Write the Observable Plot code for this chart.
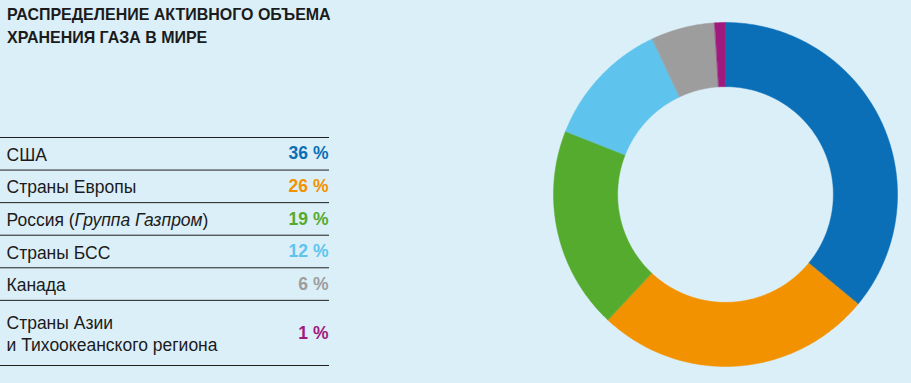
<!DOCTYPE html>
<html>
<head>
<meta charset="utf-8">
<script src="https://cdn.jsdelivr.net/npm/d3@7"></script>
<script src="https://cdn.jsdelivr.net/npm/@observablehq/plot@0.6"></script>
<style>
  html, body { margin: 0; padding: 0; background: #dbeff9; }
  #wrap { position: relative; width: 911px; height: 383px; overflow: hidden; background: #dbeff9; font-family: "Liberation Sans", Arial, sans-serif; }
  #wrap > * { position: absolute; left: 0; top: 0; }
  #title { left: 7px; top: 3px; font-weight: bold; font-size: 17px; line-height: 23.3px; color: #1b1b1b; white-space: nowrap; transform: scaleX(0.94); transform-origin: 0 0; }
</style>
</head>
<body>
<div id="wrap">
  <div id="title">РАСПРЕДЕЛЕНИЕ АКТИВНОГО ОБЪЕМА<br>ХРАНЕНИЯ ГАЗА В МИРЕ</div>
</div>
<script>
// ---- data ----
const categories = ["США", "Страны Европы", "Россия (Группа Газпром)", "Страны БСС", "Канада", "Страны Азии\nи Тихоокеанского региона"];
const shares = [36, 26, 19, 12, 6, 1];
const valueLabels = ["36 %", "26 %", "19 %", "12 %", "6 %", "1 %"];
const rowLines = [1, 1, 1, 1, 1, 2];
const colors = ["#0a6fb7", "#f39200", "#55ab2d", "#5ec4ee", "#9d9d9d", "#a0197c"];

const wrap = document.getElementById("wrap");

// ---- table (legend) ----
let acc = 0;
const rows = categories.map((name, i) => {
  const top = acc; acc += rowLines[i];
  return {name, value: valueLabels[i], lines: rowLines[i], mid: top + rowLines[i] / 2, bottom: acc};
});
const boundaries = [0, ...rows.map(r => r.bottom)];

const table = Plot.plot({
  width: 340, height: 383,
  margin: 0,
  style: {background: "transparent", fontFamily: "'Liberation Sans', Arial, sans-serif"},
  x: {domain: [0, 1], range: [0, 329], axis: null},
  y: {domain: [0, acc], range: [137, 365], axis: null},
  color: {domain: categories, range: colors},
  marks: [
    Plot.ruleY(boundaries, {y: d => d, x1: 0, x2: 1, stroke: "#1e1e1e", strokeWidth: 1}),
    Plot.text(rows, {x: 0, y: "mid", text: "name", textAnchor: "start", dx: 6, lineAnchor: "middle", fontSize: 17.5, lineHeight: 1.26, fill: "#1b1b1b"}),
    Plot.text(rows, {x: 1, y: "mid", text: "value", textAnchor: "end", dx: -1, lineAnchor: "middle", fontSize: 17.5, fontWeight: "bold", fill: "name"})
  ]
});
wrap.appendChild(table);

// italic part of the Gazprom label
table.querySelectorAll("text").forEach(t => {
  if (t.textContent === "Россия (Группа Газпром)") {
    t.textContent = "";
    const parts = [["Россия (", "normal"], ["Группа Газпром", "italic"], [")", "normal"]];
    for (const [s, st] of parts) {
      const ts = document.createElementNS("http://www.w3.org/2000/svg", "tspan");
      ts.textContent = s;
      ts.setAttribute("font-style", st);
      t.appendChild(ts);
    }
  }
});

// ---- donut ----
const innerRatio = 0.627;
const total = d3.sum(shares);
let start = 0;
const slices = categories.map((name, i) => {
  const a0 = start / total * 2 * Math.PI;
  start += shares[i];
  const a1 = start / total * 2 * Math.PI;
  const n = Math.max(2, Math.ceil((a1 - a0) / (Math.PI / 360)));
  const ring = [];
  for (let k = 0; k <= n; k++) { const a = a0 + (a1 - a0) * k / n; ring.push([Math.sin(a), Math.cos(a)]); }
  for (let k = n; k >= 0; k--) { const a = a0 + (a1 - a0) * k / n; ring.push([innerRatio * Math.sin(a), innerRatio * Math.cos(a)]); }
  ring.push(ring[0]);
  return {type: "Feature", properties: {name}, geometry: {type: "Polygon", coordinates: [ring]}};
});

const donut = Plot.plot({
  width: 911, height: 383,
  marginLeft: 553, marginRight: 14, marginTop: 22, marginBottom: 17,
  style: {background: "transparent"},
  projection: {type: "reflect-y", domain: {type: "MultiPoint", coordinates: [[-1, -1], [1, 1]]}},
  color: {domain: categories, range: colors},
  marks: [
    Plot.geo(slices, {fill: d => d.properties.name, stroke: d => d.properties.name, strokeWidth: 0.5})
  ]
});
wrap.appendChild(donut);
</script>
</body>
</html>
